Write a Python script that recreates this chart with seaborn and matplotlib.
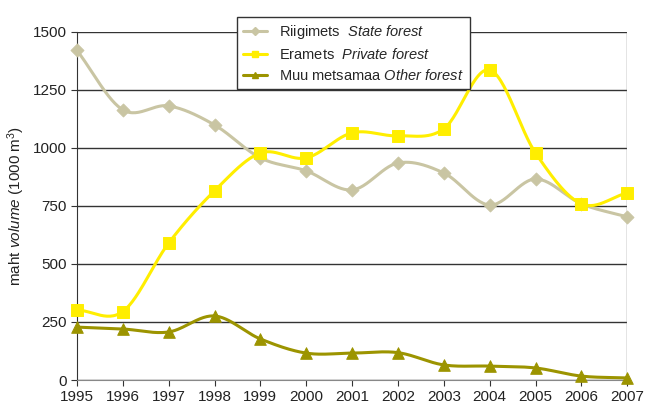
import matplotlib
matplotlib.use("Agg")
import matplotlib.pyplot as plt
import numpy as np
import pandas as pd
import seaborn as sns

## andmed (1000 m3)
years = [1995, 1996, 1997, 1998, 1999, 2000, 2001, 2002, 2003, 2004, 2005, 2006, 2007]
state = [1420, 1164, 1181, 1099, 957, 901, 819, 935, 892, 754, 866, 759, 703]
private = [302, 295, 590, 815, 978, 957, 1065, 1052, 1082, 1336, 978, 759, 806]
other = [228, 220, 207, 276, 177, 116, 116, 118, 65, 60, 52, 17, 9]

labels = ['Riigimets  $\\it{State\\ forest}$',
          'Eramets  $\\it{Private\\ forest}$',
          'Muu metsamaa $\\it{Other\\ forest}$']
colors = ['#C9C5A3', '#FFEE00', '#9C9400']
markers = ['D', 's', '^']
msizes = [45, 75, 70]


def smooth(x, y, n=30):
    ## Catmull-Rom, nagu Exceli silutud joon
    x = np.asarray(x, float)
    y = np.asarray(y, float)
    px = np.r_[2 * x[0] - x[1], x, 2 * x[-1] - x[-2]]
    py = np.r_[2 * y[0] - y[1], y, 2 * y[-1] - y[-2]]
    t = np.linspace(0, 1, n)[:, None]
    xs, ys = [], []
    for i in range(1, len(px) - 2):
        for p, out in ((px, xs), (py, ys)):
            p0, p1, p2, p3 = p[i - 1], p[i], p[i + 1], p[i + 2]
            out.append((0.5 * (2 * p1 + (-p0 + p2) * t + (2 * p0 - 5 * p1 + 4 * p2 - p3) * t ** 2
                               + (-p0 + 3 * p1 - 3 * p2 + p3) * t ** 3)).ravel())
    return np.concatenate(xs), np.concatenate(ys)


sns.set_style('white')
plt.rcParams['font.family'] = ['Liberation Sans', 'DejaVu Sans']
plt.rcParams['mathtext.fontset'] = 'custom'
plt.rcParams['mathtext.rm'] = 'Liberation Sans'
plt.rcParams['mathtext.it'] = 'Liberation Sans:italic'

fig = plt.figure(figsize=(6.52, 4.03), dpi=100)
ax = fig.add_axes([0.118, 0.057, 0.844, 0.864])

for vals, lab, c, m, s in zip([state, private, other], labels, colors, markers, msizes):
    sx, sy = smooth(years, vals)
    sns.lineplot(x=sx, y=sy, ax=ax, color=c, lw=2.2, sort=False, estimator=None, zorder=3)
    sns.scatterplot(x=years, y=vals, ax=ax, color=c, marker=m, s=s, edgecolor=c,
                    zorder=4, clip_on=False)
    ax.plot([], [], color=c, lw=2.2, marker=m, ms=4, label=lab)

ax.set_xlim(1995, 2007)
ax.set_ylim(0, 1500)
ax.set_yticks([0, 250, 500, 750, 1000, 1250, 1500])
ax.set_xticks(years)
ax.yaxis.grid(True, color='#333333', lw=1)
ax.set_axisbelow(True)
for sp in ['top', 'right']:
    ax.spines[sp].set_visible(False)
ax.spines['left'].set_color('#333333')
ax.spines['bottom'].set_color('#888888')
ax.axvline(2007, color='#777777', lw=1, zorder=1)
ax.tick_params(axis='both', labelsize=11, length=4, direction='out', colors='#333333',
               left=True, bottom=True, labelcolor='#222222')
ax.set_ylabel('maht $\\it{volume}$ (1000 m$^3$)', fontsize=11, color='#222222', labelpad=4)

leg = ax.legend(loc='upper center', bbox_to_anchor=(0.502, 1.063), fontsize=10.5, frameon=True,
                fancybox=False, edgecolor='#333333', framealpha=1, handlelength=1.7,
                borderpad=0.4, labelspacing=0.4, handletextpad=0.8)
leg.get_frame().set_linewidth(1)
leg.set_zorder(10)

fig.savefig('out.png', dpi=100)
